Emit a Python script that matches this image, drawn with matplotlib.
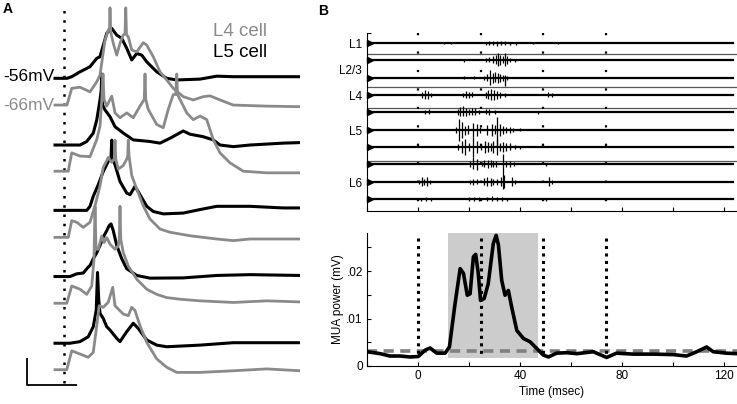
import numpy as np
import matplotlib.pyplot as plt

plt.rcParams['font.family'] = ['Liberation Sans', 'DejaVu Sans']

# ---------------- Panel A: intracellular sweeps (ms, mV above rest) ----------
l5_rest = -56
l4_rest = -66
sweep_gap = 24.5

l5_t = [
    [-3.6, 1.2, 3.1, 6.4, 10.4, 13.1, 14.4, 17.1, 19.1, 21.1, 23.1, 25.1, 27.1, 29.1,
     31.1, 33.1, 37.1, 41.1, 45.1, 54.4, 61.1, 67.7, 94.4],
    [-3.6, 6.4, 9.1, 11.7, 13.1, 14.4, 14.9, 15.1, 15.4, 16.4, 18.4, 20.4, 23.6, 27.7,
     34.4, 38.4, 42.4, 47.7, 50.4, 55.6, 59.7, 62.4, 67.7, 74.4, 87.7, 94.4],
    [-3.6, 9.1, 10.4, 11.7, 13.7, 15.7, 17.7, 18.8, 19.1, 19.3, 20.4, 22.4, 25.1, 26.4,
     28.4, 30.4, 33.1, 35.7, 39.7, 47.7, 54.4, 61.1, 74.4, 87.7, 94.4],
    [-3.6, 2.4, 5.1, 7.7, 9.7, 10.4, 11.7, 13.1, 14.4, 15.7, 17.1, 18.1, 18.8, 19.7,
     21.1, 23.1, 25.1, 29.1, 34.4, 47.7, 61.1, 74.4, 94.4],
    [-3.6, 2.4, 6.4, 9.7, 11.7, 12.9, 13.4, 13.9, 14.4, 15.7, 17.1, 18.4, 21.1, 22.4,
     25.1, 27.7, 29.7, 33.1, 37.1, 41.1, 54.4, 67.7, 94.4],
]
l5_v = [
    [-0.1, -0.1, 0.5, 2.3, 4.2, 7.3, 7.9, 16.6, 18.4, 15.9, 14.7, 11.0, 6.7, 9.1,
     8.5, 6.0, 2.3, -0.1, -0.7, -0.4, 0.7, 0.5, 0.5],
    [-0.3, -0.3, 1.0, 4.1, 9.0, 16.4, 20.0, 26.0, 14.6, 12.7, 10.2, 6.5, 4.2, 1.6,
     1.0, 0.4, 2.2, 4.9, 3.7, 2.8, 1.6, -0.3, -0.9, -0.3, 0.4, 0.6],
    [0, 0, 1.5, 5.2, 9.5, 14.4, 18.1, 19.5, 26.0, 19.5, 16.9, 10.7, 6.4, 5.8,
     8.9, 5.8, 1.5, -0.4, -1.3, -1.0, 0.3, 1.5, 1.5, 0.9, 0.9],
    [0, 0, 1.0, 1.3, 3.5, 4.1, 6.6, 8.8, 11.5, 14.6, 17.0, 18.9, 19.5, 17.0,
     11.5, 6.6, 2.9, 0.4, -0.6, -0.5, 0.4, 0.7, 0.4],
    [-0.2, -0.2, 0.4, 2.2, 5.9, 12.1, 26.0, 15.8, 10.9, 9.0, 5.9, 4.7, 1.6, 0.4,
     4.1, 7.2, 5.3, 1.0, -0.9, -1.5, -0.9, 0, 0],
]

l4_t = [
    [-3.6, 1.2, 3.1, 6.4, 10.4, 13.1, 14.4, 16.4, 17.7, 18.2, 18.4, 18.7, 19.7, 21.1,
     22.4, 23.7, 24.4, 24.7, 25.0, 25.7, 27.1, 29.1, 31.7, 33.1, 35.7, 38.4, 41.1,
     43.7, 47.7, 51.7, 55.7, 58.4, 62.4, 67.7, 81.1, 94.4],
    [-3.6, 1.7, 3.1, 6.4, 10.4, 13.1, 14.4, 15.1, 15.6, 16.0, 17.1, 19.1, 20.4, 22.4,
     25.1, 27.7, 30.4, 32.1, 32.4, 32.7, 33.7, 37.1, 39.7, 41.7, 43.7, 44.7, 45.1,
     45.4, 47.1, 49.1, 51.7, 54.4, 57.1, 59.7, 62.4, 66.4, 71.7, 81.1, 94.4],
    [-3.6, 1.7, 3.1, 5.1, 7.7, 10.4, 12.4, 14.4, 15.7, 17.7, 19.1, 20.1, 20.4, 20.7,
     21.7, 23.7, 25.1, 25.5, 25.7, 26.0, 27.1, 29.1, 31.7, 34.4, 38.4, 42.4, 50.4,
     61.1, 67.7, 74.4, 94.4],
    [-3.6, 1.1, 3.1, 6.4, 9.1, 11.1, 12.0, 12.4, 12.8, 13.7, 15.1, 16.0, 17.1, 18.4,
     20.4, 21.7, 22.1, 22.4, 22.7, 23.7, 25.7, 29.1, 33.1, 37.1, 41.1, 46.4, 54.4,
     67.7, 81.1, 94.4],
    [-3.6, 1.1, 3.1, 6.4, 9.7, 11.7, 13.1, 14.1, 15.7, 17.7, 19.5, 20.4, 23.7, 25.7,
     27.1, 28.4, 30.4, 33.1, 37.1, 41.1, 45.1, 54.4, 67.7, 81.1, 94.4],
]
l4_v = [
    [0, 0, 6.2, 6.6, 4.9, 8.6, 11.1, 24.1, 27.8, 28.5, 36.0, 27.0, 22.9, 18.5,
     22.9, 25.9, 26.5, 36.0, 26.0, 25.3, 20.4, 19.7, 23.1, 22.2, 17.9, 12.3, 9.3,
     6.2, 3.1, 1.9, 3.1, 3.4, 1.9, 0, -0.4, -0.6],
    [0, 0, 6.8, 5.6, 5.4, 11.7, 16.7, 26.6, 36.0, 26.6, 24.1, 27.8, 21.6, 19.8,
     21.6, 19.8, 24.1, 26.6, 36.0, 26.6, 22.9, 17.3, 16.1, 22.9, 28.4, 28.4, 36.0,
     28.4, 25.3, 21.6, 19.1, 20.4, 19.1, 11.7, 6.8, 3.1, 0, -0.6, -0.6],
    [0, 0, 6.2, 5.6, 3.7, 5.6, 11.7, 19.1, 25.9, 29.6, 27.8, 29.1, 36.0, 29.1,
     25.3, 26.6, 29.0, 30.3, 36.0, 30.3, 22.9, 17.9, 11.7, 6.8, 3.1, 1.9, 0.6,
     -0.6, -1.2, -0.6, -0.6],
    [0.1, 0.1, 6.5, 5.3, 3.4, 6.5, 16.4, 36.0, 20.1, 20.1, 25.0, 22.6, 24.4, 22.0,
     20.1, 21.3, 23.8, 36.0, 23.8, 18.9, 13.9, 9.0, 5.3, 3.4, 2.2, 1.6, 1.0,
     0.4, 1.0, 0.6],
    [0, 0, 7.0, 5.8, 4.6, 6.4, 16.3, 23.7, 23.1, 25.0, 30.5, 23.7, 20.6, 20.0,
     23.1, 21.9, 16.3, 10.1, 4.0, 0.9, -1.0, -1.0, -0.4, 0.3, -0.4],
]

# ---------------- Panel B top: laminar MUA bursts (ms, up / down deflection) -----
layer_names = ['L1', 'L2/3', 'L4', 'L5', 'L6']
layer_rows = [0, 1.5, 3, 5, 8]
layer_bounds = [0.63, 2.54, 3.75, 6.81]
lfp_gap = 17.3

burst_t = [
    [10, 13, 26.5, 28, 29.5, 31, 32.5, 34, 36, 38.5, 45, 55],
    [18, 26.5, 28, 29.5, 30.5, 31.3, 32.2, 33.2, 34, 35, 36.2, 38],
    [18, 22, 26, 27, 28.2, 29.2, 30.3, 31.3, 32.3, 33.3, 34, 35],
    [1.5, 2.7, 3.8, 5, 17.5, 18.8, 20, 21.3, 26.5, 27.6, 28.6, 29.8, 31, 32.3, 34, 51, 52.5],
    [2.8, 4.3, 15.7, 16.6, 17.6, 18.8, 20, 21.3, 22.5, 24, 26.5, 28, 30, 47],
    [14.8, 16.2, 17.1, 18.4, 19.6, 21.7, 23, 24.3, 27, 28.9, 30, 30.8, 32.1, 33.3,
     34.5, 36, 37.2, 40],
    [15.8, 17.1, 18.4, 19.8, 21.7, 23, 24.6, 26.2, 27.4, 28.5, 29.5, 31.1, 32.2,
     33.3, 34.6, 36, 38, 40],
    [20.5, 21.7, 23, 25, 26, 27.3, 28.5, 29.5, 30.5, 33.3, 34.6, 36, 37.5, 50],
    [0.5, 1.4, 2.4, 3.4, 4.6, 20.4, 21.7, 23, 26, 27.2, 28.4, 29.5, 31, 32.5, 33.6,
     36.7, 38, 51.3, 52.5],
    [1, 3, 5, 20, 22, 24, 27, 29, 31, 33, 35, 50],
]
burst_up = [
    [1, 1, 1.5, 2, 2.5, 2, 2.5, 2, 1.5, 1.5, 1, 1],
    [1.5, 2, 3, 4, 5, 7, 5, 4, 7, 4, 2, 1.5],
    [1.5, 1.5, 2, 4, 8, 5, 6, 5, 4, 3, 3, 2],
    [3, 5, 4, 2, 2, 4, 3, 3, 3, 5, 6, 5, 4, 3, 2, 3, 2],
    [2, 3, 3, 5, 6, 4, 3, 4, 4, 2, 3, 3, 2, 1.5],
    [3, 11, 8, 4, 5, 7, 6, 3, 5, 6, 5, 13, 6, 4, 3, 3, 2, 1.5],
    [3, 6, 8, 4, 10, 6, 3, 6, 5, 4, 6, 8, 4, 5, 4, 4, 2, 1.5],
    [3, 7, 5, 2, 4, 4, 4, 3, 3, 10, 3, 3, 2, 1.5],
    [2, 5, 3, 5, 2, 2, 3, 3, 4, 5, 4, 3, 3, 5, 7, 5, 2, 5, 2],
    [1.5, 2, 1.5, 2, 2, 2, 2, 3, 2, 2, 1.5, 1.5],
]
burst_down = [
    [1, 1, 1.5, 1.5, 2, 2.5, 2, 2, 1.5, 1.5, 1, 1],
    [1.5, 2, 2, 3, 4, 6, 5, 3, 6, 4, 2, 1.5],
    [1.5, 1.5, 2, 3, 7, 5, 4, 5, 4, 3, 8, 2],
    [3, 4, 4, 2, 2, 3, 3, 2, 3, 4, 5, 5, 4, 3, 2, 2, 2],
    [2, 2, 3, 4, 4, 4, 3, 3, 3, 2, 2, 3, 2, 1.5],
    [3, 11, 8, 5, 4, 7, 6, 3, 5, 6, 4, 16, 6, 4, 3, 3, 2, 1.5],
    [3, 6, 8, 4, 10, 6, 3, 6, 5, 4, 6, 8, 4, 5, 4, 3, 2, 1.5],
    [3, 5, 6, 2, 3, 4, 3, 3, 3, 25, 3, 3, 2, 1.5],
    [2, 4, 3, 4, 2, 2, 3, 2, 3, 4, 4, 3, 3, 4, 6, 4, 2, 4, 2],
    [1.5, 2, 1.5, 2, 1.5, 2, 2, 2, 2, 2, 1.5, 1.5],
]

# ---------------- Panel B bottom: MUA power ----------------------------------
mua_t = [-20, -14.9, -11, -7, -3.1, 0.1, 2.7, 4.7, 7.3, 10.6, 12.3, 14.5, 16.5, 17.8,
         19.3, 20.4, 21.7, 22.6, 23.6, 24.5, 25.9, 27.5, 29.5, 30.6, 31.5, 32.8, 34.1,
         35.4, 36.7, 38.7, 41.3, 43.9, 46.5, 49.1, 51.1, 54.3, 58.2, 62.2, 68.7, 73.9,
         77.8, 84.4, 92.2, 100, 105.2, 109.2, 113.1, 115.7, 120.9, 125]
mua_v = [0.0030, 0.0026, 0.0021, 0.0021, 0.0019, 0.0020, 0.0033, 0.0038, 0.0027, 0.0027,
         0.0040, 0.0131, 0.0205, 0.0195, 0.0149, 0.0152, 0.0230, 0.0235, 0.0195, 0.0138,
         0.0142, 0.0173, 0.0258, 0.0275, 0.0255, 0.0180, 0.0149, 0.0159, 0.0124, 0.0075,
         0.0058, 0.0051, 0.0037, 0.0023, 0.0019, 0.0027, 0.0028, 0.0026, 0.0030, 0.0018,
         0.0027, 0.0025, 0.0025, 0.0024, 0.0021, 0.0030, 0.0040, 0.0030, 0.0027, 0.0026]
mua_thresh = 0.0032
window = (11.6, 47.1)
stim_times = [0, 24.5, 49, 73.5]

GRAY = '#8a8a8a'

fig = plt.figure(figsize=(7.37, 4.04), dpi=100)
W, H = 737, 404


def px_axes(left, top, right, bottom):
    return fig.add_axes([left / W, 1 - bottom / H, (right - left) / W, (bottom - top) / H])


# ---- A
axA = px_axes(0, 0, 300, 404)
axA.set_xlim(-25.6, 94.4)
axA.set_ylim(-176.7, -27.1)
axA.axis('off')

for i in range(5):
    off = -sweep_gap * i
    axA.plot(l5_t[i], np.array(l5_v[i]) + l5_rest + off, color='black', lw=2.2,
             solid_joinstyle='round', zorder=2)
for i in range(5):
    off = -sweep_gap * i
    axA.plot(l4_t[i], np.array(l4_v[i]) + l4_rest + off, color=GRAY, lw=2.0,
             solid_joinstyle='round', zorder=3)

axA.axvline(0, ymin=0.052, ymax=0.988, color='black', lw=1.8, ls=(0, (1, 2.7)))
axA.text(-4.0, l5_rest + 0.6, '-56mV', ha='right', va='center', fontsize=12.5)
axA.text(-4.0, l4_rest, '-66mV', ha='right', va='center', fontsize=12.5, color=GRAY)
axA.text(0.71, 0.921, 'L4 cell', transform=axA.transAxes, fontsize=13.5, color=GRAY,
         va='center')
axA.text(0.71, 0.871, 'L5 cell', transform=axA.transAxes, fontsize=13.5, va='center')

# scale bar: 20 ms, 10 mV
sb_x, sb_y = -14.8, -169.7
axA.plot([sb_x, sb_x, sb_x + 20], [sb_y + 10, sb_y, sb_y], color='black', lw=1.3,
         solid_capstyle='butt')

fig.text(3 / W, 1 - 2 / H, 'A', fontsize=10, fontweight='bold', va='top')
fig.text(318 / W, 1 - 4 / H, 'B', fontsize=10, fontweight='bold', va='top')

# ---- B top
axT = px_axes(367, 33, 737, 211)
axT.set_xlim(-20, 125)
top_lim = 0.58
axT.set_ylim(-9.69, top_lim)
for i in range(10):
    axT.plot([-20, 123.5], [-i, -i], color='black', lw=1.6, zorder=2)
    tt = np.array(burst_t[i])
    up = np.array(burst_up[i]) / lfp_gap
    dn = np.array(burst_down[i]) / lfp_gap
    axT.vlines(tt, -i - dn, -i + up, color='black', lw=0.9, zorder=2)
    axT.plot([-18.9], [-i], marker='>', color='black', markersize=5, clip_on=False,
             zorder=4)
for b in layer_bounds:
    axT.axhline(-b, color='#555555', lw=0.9, zorder=1)
for s in stim_times:
    axT.plot([s, s], [top_lim, -9.69], color='black', lw=1.6, ls=(0, (1, 7.3)), zorder=3)
for name, row in zip(layer_names, layer_rows):
    axT.text(-22, -row - 0.12, name, ha='right', va='center', fontsize=8.5)

for side in ['top', 'right']:
    axT.spines[side].set_visible(False)
for side in ['left', 'bottom']:
    axT.spines[side].set_linewidth(0.8)
axT.set_xticks(range(-20, 121, 20))
axT.set_xticklabels([])
axT.set_yticks([top_lim])
axT.set_yticklabels([])
axT.tick_params(direction='in', length=3, width=0.8)

# ---- B bottom
axM = px_axes(367, 233, 737, 366)
axM.set_xlim(-20, 125)
axM.set_ylim(0, 0.028)
axM.fill_between(window, 0.0016, 0.028, color='#cccccc', lw=0, zorder=1)
axM.axhline(mua_thresh, color='#808080', lw=2.6, ls=(0, (2.8, 1.8)), zorder=2)
for s in stim_times:
    axM.plot([s, s], [0.027, 0.002], color='black', lw=2.2, ls=(0, (1, 1.45)), zorder=3)
axM.plot(mua_t, mua_v, color='black', lw=2.6, solid_joinstyle='round', zorder=4)

for side in ['top', 'right']:
    axM.spines[side].set_visible(False)
for side in ['left', 'bottom']:
    axM.spines[side].set_linewidth(0.8)
axM.set_xticks(range(-20, 121, 20))
axM.set_xticklabels(['', '0', '', '40', '', '80', '', '120'])
axM.set_yticks([0, 0.005, 0.01, 0.015, 0.02, 0.025])
axM.set_yticklabels(['0', '', '.01', '', '.02', ''])
axM.tick_params(direction='in', length=3, width=0.8, labelsize=8.5, pad=3)
axM.set_xlabel('Time (msec)', fontsize=8.5, labelpad=3)
axM.set_ylabel('MUA power (mV)', fontsize=8.5, labelpad=2)

fig.savefig('out.png', dpi=100)
